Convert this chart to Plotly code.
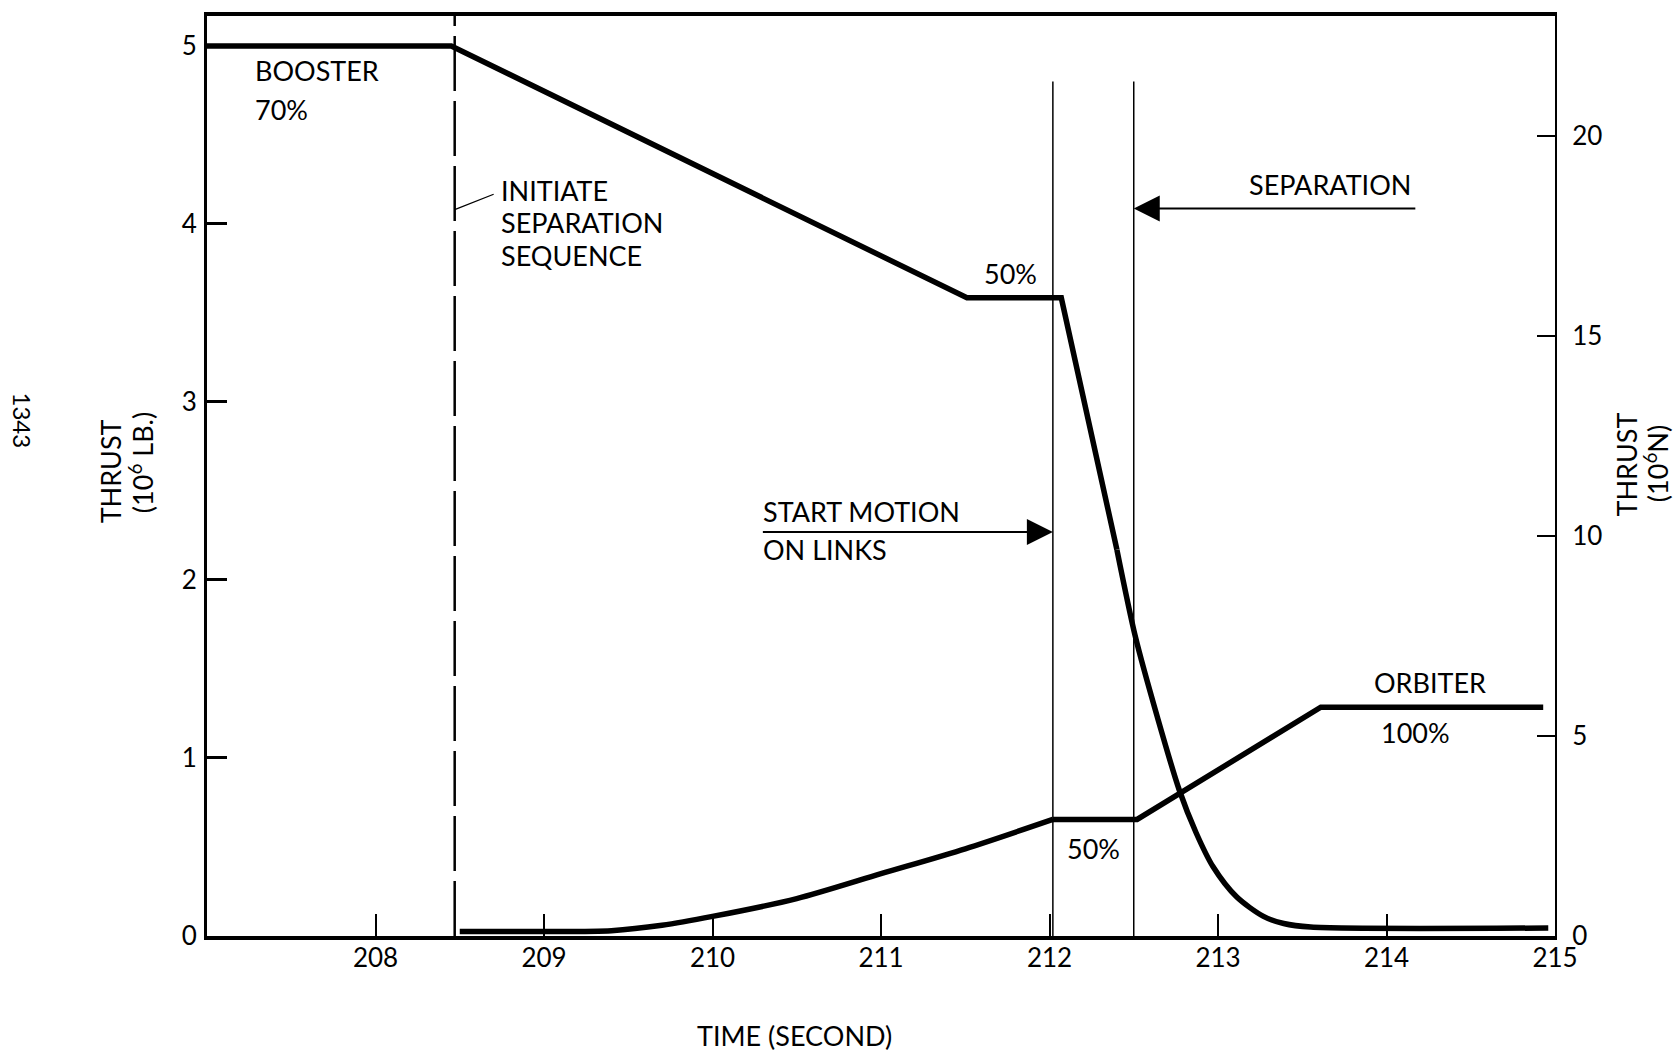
import plotly.graph_objects as go

# ---------------- data ----------------
booster_time = [207.0, 208.45, 211.51, 212.07, 212.40, 212.51, 212.64, 212.77,
                212.87, 212.97, 213.11, 213.27, 213.39, 213.55, 214.96]
booster_thrust = [5.0, 5.0, 3.585, 3.585, 2.17, 1.68, 1.23, 0.82,
                  0.58, 0.39, 0.22, 0.11, 0.07, 0.05, 0.045]

orbiter_time = [208.50, 209.0, 209.4, 209.7, 210.0, 210.5, 211.0, 211.5,
                212.02, 212.52, 213.61, 214.93]
orbiter_thrust = [0.025, 0.025, 0.03, 0.06, 0.11, 0.21, 0.35, 0.49,
                  0.655, 0.655, 1.285, 1.285]

event_names = ["INITIATE SEPARATION SEQUENCE", "START MOTION ON LINKS", "SEPARATION"]
event_times = [208.47, 212.02, 212.50]
event_tops = [5.168, 4.80, 4.80]

x_ticks = [208, 209, 210, 211, 212, 213, 214, 215]
y_ticks_lb = [0, 1, 2, 3, 4, 5]
y_ticks_n = [0, 5, 10, 15, 20]
LB_TO_N = 4.448
x_range = [207.0, 215.0]
y_range_lb = [0.0, 5.168]

FONT = "Lato"
BLACK = "#000000"

fig = go.Figure()

# event lines
fig.add_trace(go.Scatter(x=[event_times[0]] * 2, y=[0, event_tops[0]], mode="lines",
                         line=dict(color=BLACK, width=2.5, dash="55px,10px"),
                         showlegend=False, hoverinfo="skip"))
for t, top in zip(event_times[1:], event_tops[1:]):
    fig.add_trace(go.Scatter(x=[t, t], y=[0, top], mode="lines",
                             line=dict(color=BLACK, width=1.5),
                             showlegend=False, hoverinfo="skip"))

# thrust curves: straight segments drawn linear, curved tails drawn smooth
B_SPLIT = 4   # booster: straight up to the start of the steep drop, then curved
fig.add_trace(go.Scatter(x=booster_time[:B_SPLIT + 1], y=booster_thrust[:B_SPLIT + 1],
                         mode="lines", name="BOOSTER",
                         line=dict(color=BLACK, width=5.5), showlegend=False))
fig.add_trace(go.Scatter(x=booster_time[B_SPLIT:], y=booster_thrust[B_SPLIT:],
                         mode="lines", name="BOOSTER",
                         line=dict(color=BLACK, width=5.5, shape="spline", smoothing=0.8),
                         showlegend=False))
O_SPLIT = 8   # orbiter: curved build-up, then straight segments
fig.add_trace(go.Scatter(x=orbiter_time[:O_SPLIT + 1], y=orbiter_thrust[:O_SPLIT + 1],
                         mode="lines", name="ORBITER",
                         line=dict(color=BLACK, width=5.5, shape="spline", smoothing=0.8),
                         showlegend=False))
fig.add_trace(go.Scatter(x=orbiter_time[O_SPLIT:], y=orbiter_thrust[O_SPLIT:],
                         mode="lines", name="ORBITER",
                         line=dict(color=BLACK, width=5.5), showlegend=False))

# same booster in newtons on the secondary axis (invisible, ties the right axis)
fig.add_trace(go.Scatter(x=booster_time, y=[v * LB_TO_N for v in booster_thrust],
                         mode="lines", yaxis="y2", line=dict(color="rgba(0,0,0,0)", width=0),
                         showlegend=False, hoverinfo="skip"))

tf = dict(family=FONT, size=27, color=BLACK)
ann = []


def label(text, x, y, xanchor="left", size=27):
    ann.append(dict(text=text, x=x, y=y, xref="x", yref="y", xanchor=xanchor,
                    yanchor="middle", showarrow=False,
                    font=dict(family=FONT, size=size, color=BLACK)))


label("BOOSTER", 207.27, 4.86)
label("70%", 207.27, 4.64)
label("INITIATE", 208.735, 4.19)
label("SEPARATION", 208.735, 4.01)
label("SEQUENCE", 208.735, 3.82)
label("50%", 211.77, 3.72, xanchor="center")
label("SEPARATION", 214.16, 4.22, xanchor="right")
label("START MOTION", 210.29, 2.385)
label("ON LINKS", 210.29, 2.17)
label("50%", 212.26, 0.49, xanchor="center")
label("ORBITER", 214.26, 1.425, xanchor="center")
label("100%", 214.17, 1.143, xanchor="center")

# leader line for "initiate separation sequence"
ann.append(dict(text="", x=event_times[0], y=4.08, ax=208.71, ay=4.17,
                xref="x", yref="y", axref="x", ayref="y", showarrow=True,
                arrowhead=0, arrowwidth=1.3, arrowcolor=BLACK, standoff=0))
# separation arrow
ann.append(dict(text="", x=event_times[2], y=4.087, ax=214.18, ay=4.087,
                xref="x", yref="y", axref="x", ayref="y", showarrow=True,
                arrowhead=2, arrowsize=2.6, arrowwidth=2, arrowcolor=BLACK, standoff=0))
# start motion arrow
ann.append(dict(text="", x=event_times[1], y=2.27, ax=210.29, ay=2.27,
                xref="x", yref="y", axref="x", ayref="y", showarrow=True,
                arrowhead=2, arrowsize=2.6, arrowwidth=2, arrowcolor=BLACK, standoff=0))

# axis titles
ann.append(dict(text="THRUST", x=-0.072, y=0.505, xref="paper", yref="paper",
                textangle=-90, showarrow=False, font=tf, xanchor="center", yanchor="middle"))
ann.append(dict(text="(10<sup>6</sup> LB.)", x=-0.049, y=0.515, xref="paper", yref="paper",
                textangle=-90, showarrow=False, font=tf, xanchor="center", yanchor="middle"))
ann.append(dict(text="THRUST", x=1.053, y=0.513, xref="paper", yref="paper",
                textangle=-90, showarrow=False, font=tf, xanchor="center", yanchor="middle"))
ann.append(dict(text="(10<sup>6</sup>N)", x=1.075, y=0.513, xref="paper", yref="paper",
                textangle=-90, showarrow=False, font=tf, xanchor="center", yanchor="middle"))
ann.append(dict(text="TIME (SECOND)", x=0.4355, y=-0.108, xref="paper", yref="paper",
                showarrow=False, font=tf, xanchor="center", yanchor="middle"))
ann.append(dict(text="1343", x=-0.137, y=0.56, xref="paper", yref="paper",
                textangle=90, showarrow=False,
                font=dict(family=FONT, size=24, color=BLACK),
                xanchor="center", yanchor="middle"))

fig.update_layout(
    width=1680, height=1053,
    margin=dict(l=207, r=125, t=13, b=117),
    paper_bgcolor="white", plot_bgcolor="white",
    font=dict(family=FONT, color=BLACK),
    showlegend=False,
    annotations=ann,
    xaxis=dict(range=x_range, tickvals=x_ticks, ticktext=[str(v) for v in x_ticks],
               ticks="inside", ticklen=22, tickwidth=2, tickcolor=BLACK,
               showline=True, linewidth=3.5, linecolor=BLACK, mirror=True,
               showgrid=False, zeroline=False, ticklabelstandoff=-4,
               tickfont=dict(family=FONT, size=26, color=BLACK)),
    yaxis=dict(range=y_range_lb, tickvals=y_ticks_lb, ticktext=[str(v) for v in y_ticks_lb],
               ticks="inside", ticklen=20, tickwidth=2.5, tickcolor=BLACK,
               showline=True, linewidth=3, linecolor=BLACK,
               showgrid=False, zeroline=False, ticklabelstandoff=2,
               tickfont=dict(family=FONT, size=26, color=BLACK)),
    yaxis2=dict(range=[y_range_lb[0] * LB_TO_N, y_range_lb[1] * LB_TO_N],
                tickvals=y_ticks_n, ticktext=[str(v) for v in y_ticks_n],
                overlaying="y", side="right",
                ticks="inside", ticklen=18, tickwidth=2, tickcolor=BLACK,
                showline=True, linewidth=2, linecolor=BLACK,
                showgrid=False, zeroline=False, ticklabelstandoff=10,
                tickfont=dict(family=FONT, size=26, color=BLACK)),
)

fig.write_html("out.html",
               config={"displayModeBar": False},
               post_script="document.body.style.margin='0';"
                           "document.body.style.overflow='hidden';")
